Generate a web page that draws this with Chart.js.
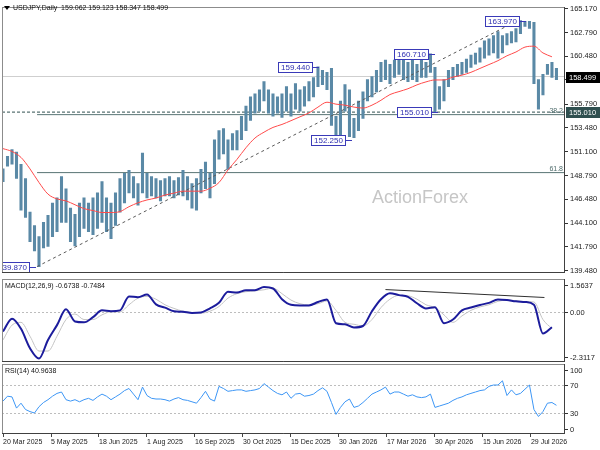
<!DOCTYPE html>
<html>
<head>
<meta charset="utf-8">
<script src="https://cdn.jsdelivr.net/npm/chart.js@4.4.1/dist/chart.umd.min.js"></script>
<style>
  html, body { margin:0; padding:0; background:#ffffff; }
  body { width:600px; height:450px; position:relative; overflow:hidden; }
  .pane { position:absolute; left:0; width:600px; }
  #pane1 { top:0; height:279px; }
  #pane2 { top:277px; height:87px; }
  #pane3 { top:362px; height:88px; }
</style>
</head>
<body>
<div class="pane" id="pane1"><canvas id="priceChart"></canvas></div>
<div class="pane" id="pane2"><canvas id="macdChart"></canvas></div>
<div class="pane" id="pane3"><canvas id="rsiChart"></canvas></div>
<script>
// ---------------- DATA ----------------
const BAR_STEP = 3;   // trading days per drawn bar
const IND_STEP = 6;   // trading days per MA / MACD sample
const X_TICK_STEP = 32;

const xTickLabels = ['20 Mar 2025','5 May 2025','18 Jun 2025','1 Aug 2025','16 Sep 2025','30 Oct 2025',
  '15 Dec 2025','30 Jan 2026','17 Mar 2026','30 Apr 2026','15 Jun 2026','29 Jul 2026'];
const priceTicks = [165.170,162.790,160.480,158.170,155.790,153.480,151.100,148.790,146.480,144.100,141.790,139.480];

const barHigh = [
  149.44,150.67,151.33,151.1,149.9,148.5,145.2,143.9,142.8,144.2,
  144.9,146.1,146.6,148.7,147.5,145.6,145.0,146.1,146.6,146.1,
  146.6,147.1,148.2,146.6,146.1,147.1,148.5,149.0,149.3,148.7,
  148.0,151.0,149.0,148.7,148.5,148.3,148.5,148.7,148.3,148.6,
  149.3,148.7,148.0,148.5,149.4,150.1,149.0,152.3,153.2,153.4,
  152.3,152.9,153.2,154.6,155.6,156.5,156.8,157.2,158.0,157.2,
  156.8,156.5,156.8,157.5,156.8,157.8,157.2,157.5,158.0,158.4,
  159.44,159.1,158.9,159.3,154.6,156.1,157.7,157.2,154.4,156.1,
  157.0,158.2,158.5,159.1,159.9,160.1,159.7,160.1,160.6,160.1,
  159.9,160.1,159.7,160.1,159.9,160.71,159.4,157.5,158.2,159.1,
  159.4,159.7,159.9,160.2,160.6,160.8,161.3,162.0,162.2,162.5,
  162.9,162.5,162.7,162.9,163.2,163.97,163.9,163.9,163.8,158.2,
  158.7,159.7,159.9,159.3];
const barLow = [
  148.2,149.7,149.9,148.5,145.4,144.7,142.3,141.4,139.87,141.7,
  141.85,142.8,143.3,144.2,144.2,142.3,141.9,142.8,143.6,143.3,
  143.0,143.6,144.2,143.3,142.6,143.9,145.2,146.1,147.1,146.6,
  145.9,147.1,146.6,146.8,146.6,146.3,146.8,146.8,146.6,146.9,
  146.8,146.4,145.6,145.4,147.1,147.5,146.6,148.0,150.4,150.9,
  149.4,151.3,151.3,152.3,153.2,154.2,154.9,155.1,156.1,154.9,
  154.6,154.9,154.5,155.1,154.6,155.3,155.1,155.6,156.1,156.5,
  157.5,157.7,157.2,153.7,152.25,152.8,155.1,152.6,152.5,153.2,
  154.4,156.1,156.5,157.0,158.0,158.2,157.8,158.4,158.7,158.2,
  158.0,158.2,158.0,158.4,158.4,158.9,155.01,155.3,156.1,157.5,
  158.2,158.5,158.7,158.9,159.4,159.7,159.9,160.3,160.6,160.8,
  160.3,160.8,161.6,161.8,161.9,162.7,163.4,163.2,157.8,155.3,
  156.7,158.7,158.4,158.2];

const movingAvg = [
  151.43,151.15,150.57,149.44,148.11,146.97,146.5,146.31,145.93,145.55,
  145.36,145.17,145.17,145.26,145.74,146.12,146.4,146.59,146.88,147.07,
  147.26,147.26,147.26,147.54,148.11,149.34,150.38,151.52,152.47,153.04,
  153.51,153.8,154.17,154.55,154.93,155.5,155.98,155.79,155.69,155.5,
  155.41,155.69,156.17,156.73,157.02,157.3,157.68,157.97,158.16,158.16,
  158.44,158.63,158.91,159.29,159.67,160.05,160.53,160.9,161.38,161.47,
  160.81,160.43];

const macdLine = [
  -0.89,-0.29,-0.76,-1.67,-2.15,-1.28,-0.59,0.15,-0.42,-0.46,
  -0.22,0.10,0.06,0.10,0.75,0.71,0.84,0.38,0.23,0.06,
  0.03,-0.02,0.0,0.19,0.45,0.97,0.93,1.04,1.04,1.19,
  1.12,0.62,0.36,0.33,0.33,0.49,0.61,-0.50,-0.55,-0.70,
  -0.63,0.06,0.62,0.90,0.81,0.73,0.43,0.19,0.25,-0.50,
  -0.33,0.10,0.23,0.35,0.45,0.61,0.58,0.52,0.49,0.36,
  -0.98,-0.69];
const macdSignal = [
  -1.28,-0.59,-0.46,-1.11,-1.80,-1.80,-1.11,-0.33,-0.07,-0.33,
  -0.33,-0.11,0.03,0.03,0.36,0.67,0.75,0.62,0.36,0.19,
  0.06,0.0,-0.03,0.06,0.28,0.67,0.88,0.97,1.01,1.06,
  1.14,0.88,0.58,0.41,0.35,0.41,0.54,0.10,-0.46,-0.55,
  -0.63,-0.33,0.23,0.62,0.80,0.78,0.62,0.36,0.23,-0.11,
  -0.46,-0.16,0.10,0.26,0.36,0.52,0.58,0.55,0.51,0.49,
  -0.33,-0.75];

const rsiLine = [
  47,54,53,37,44,35,32,30,39,45,
  49,54,58,60,49,47,49,46,49,51,
  48,53,57,54,49,53,57,62,65,57,
  49,67,55,51,50,50,49,47,50,52,
  49,48,46,44,52,61,50,47,68,65,
  61,62,63,63,61,62,63,65,72,67,
  62,58,56,60,51,57,58,54,55,57,
  62,66,61,45,28,38,46,50,38,40,
  45,51,57,60,63,67,57,60,60,57,
  54,56,53,52,53,57,38,40,42,44,
  48,51,53,56,58,60,62,63,68,70,
  70,76,55,63,56,58,64,70,35,25,
  32,44,45,41];

// annotations
const lastClose = 158.499;
const supportLevel = 155.010;
const fibNames = ['38.2','61.8'];
const fibLevels = [154.76, 149.08];
const fibStartDay = 22.7;
const trendDays = [22.7, 343];
const trendValues = [139.87, 163.97];
const markTexts = ['139.870','159.440','152.250','160.710','155.010','163.970'];
const markValues = [139.87,159.44,152.25,160.71,155.01,163.97];
const markDays = [22,211,233,288,290,348.5];
const macdTrendDays = [255, 361];
const macdTrendValues = [1.07, 0.70];
const macdTickTexts = ['1.5637','0.00','-2.3117'];
const rsiTickValues = [100,70,30,0];
const rsiLevels = [70,30];

// ---------------- CHARTS ----------------
const FONT = '"Liberation Sans", Arial, Helvetica, sans-serif';
const X_MIN = -0.67, X_MAX = 374.7;
const AXIS_W = 35;

function hiddenX() {
  return { type:'linear', min:X_MIN, max:X_MAX, offset:false, display:false };
}
function drawFrame(chart) {
  const {ctx, chartArea:a} = chart;
  ctx.save();
  ctx.strokeStyle = '#8c8c8c'; ctx.lineWidth = 1;
  const L = Math.round(a.left), T = Math.round(a.top), R = Math.round(a.right), B = Math.round(a.bottom);
  ctx.strokeRect(L + 0.5, T + 0.5, R - L - 1, B - T - 1);
  ctx.strokeStyle = '#404040';
  ctx.beginPath(); ctx.moveTo(R - 0.5, T); ctx.lineTo(R - 0.5, B); ctx.stroke();
  ctx.beginPath(); ctx.moveTo(L, B - 0.5); ctx.lineTo(R, B - 0.5); ctx.stroke();
  ctx.restore();
}
function axisLabel(chart, y, text) {
  const {ctx, chartArea:a} = chart;
  const R = Math.round(a.right);
  const yy = Math.round(y) + 0.5;
  ctx.save();
  ctx.strokeStyle = '#333'; ctx.lineWidth = 1;
  ctx.beginPath(); ctx.moveTo(R, yy); ctx.lineTo(R + 3, yy); ctx.stroke();
  ctx.fillStyle = '#222'; ctx.font = `7.5px ${FONT}`;
  ctx.textBaseline = 'middle'; ctx.textAlign = 'left';
  ctx.fillText(text, R + 5, yy);
  ctx.restore();
}
function drawTitle(chart, text, y, arrow) {
  const ctx = chart.ctx;
  ctx.save();
  let x = 5;
  if (arrow) {
    ctx.fillStyle = '#000';
    ctx.beginPath(); ctx.moveTo(4, 6); ctx.lineTo(10, 6); ctx.lineTo(7, 10); ctx.closePath(); ctx.fill();
    x = 13;
  }
  ctx.fillStyle = '#111'; ctx.font = `7px ${FONT}`;
  ctx.textBaseline = 'middle'; ctx.textAlign = 'left';
  ctx.fillText(text, x, y);
  ctx.restore();
}

// ---- price chart ----
const pricePlugin = {
  id: 'pricePlugin',
  beforeDatasetsDraw(chart) {
    const ctx = chart.ctx;
    ctx.save();
    ctx.fillStyle = '#c6c6c6'; ctx.font = `18px ${FONT}`;
    ctx.textAlign = 'center'; ctx.textBaseline = 'alphabetic';
    ctx.fillText('ActionForex', 420, 203);
    ctx.restore();
  },
  afterDatasetsDraw(chart) {
    const {ctx, chartArea:a} = chart;
    const xs = chart.scales.x, ys = chart.scales.y;
    ctx.save();
    ctx.beginPath(); ctx.rect(a.left + 1, a.top, a.right - a.left - 1, a.bottom - a.top); ctx.clip();
    ctx.font = `7px ${FONT}`; ctx.fillStyle = '#4e6b6b';
    ctx.textAlign = 'right'; ctx.textBaseline = 'alphabetic';
    fibLevels.forEach((v, j) => ctx.fillText(fibNames[j], a.right - 2, ys.getPixelForValue(v) - 2));
    ctx.font = `8px ${FONT}`; ctx.textAlign = 'left'; ctx.textBaseline = 'middle';
    markTexts.forEach((t, j) => {
      const px = Math.round(xs.getPixelForValue(markDays[j]));
      const cy = Math.round(ys.getPixelForValue(markValues[j]));
      const w = Math.ceil(ctx.measureText(t).width) + 5;
      const bx = px - 7 - w;
      ctx.fillStyle = '#ffffff'; ctx.fillRect(bx, cy - 5, w, 11);
      ctx.strokeStyle = '#3a3ab8'; ctx.lineWidth = 1;
      ctx.strokeRect(bx + 0.5, cy - 4.5, w, 10);
      ctx.beginPath(); ctx.moveTo(bx + w, cy + 0.5); ctx.lineTo(px, cy + 0.5); ctx.stroke();
      ctx.fillStyle = '#2e2eb0'; ctx.fillText(t, bx + 3, cy + 1);
    });
    ctx.restore();
  },
  afterDraw(chart) {
    const {ctx, chartArea:a} = chart;
    const ys = chart.scales.y;
    drawFrame(chart);
    drawTitle(chart, 'USDJPY,Daily  159.062 159.123 158.347 158.499', 8, true);
    ctx.save();
    ctx.font = `7.5px ${FONT}`; ctx.textBaseline = 'middle'; ctx.textAlign = 'left';
    [[lastClose, '#000000'], [supportLevel, '#2f4f4f']].forEach(([v, col]) => {
      const cy = Math.round(ys.getPixelForValue(v));
      ctx.fillStyle = col; ctx.fillRect(Math.round(a.right) + 1, cy - 5, 34, 11);
      ctx.fillStyle = '#ffffff'; ctx.fillText(v.toFixed(3), Math.round(a.right) + 4, cy + 0.5);
    });
    ctx.restore();
  }
};

const barData = barHigh.map((h, i) => ({ x: i * BAR_STEP, y: [barLow[i], h] }));
const maData = movingAvg.map((v, k) => ({ x: k * IND_STEP, y: v }));
const hLine = (x0, v) => [{ x: x0, y: v }, { x: X_MAX, y: v }];

new Chart(document.getElementById('priceChart'), {
  type: 'bar',
  data: {
    datasets: [
      { type:'line', data: maData, borderColor:'#ff4a4a', borderWidth:1, pointRadius:0, cubicInterpolationMode:'monotone', order:1 },
      { type:'line', data: trendDays.map((d, j) => ({ x:d, y:trendValues[j] })), borderColor:'#5a5a5a', borderWidth:1, borderDash:[3,3], pointRadius:0, order:2 },
      { type:'bar', data: barData, backgroundColor:'#5a89a6', barThickness:2.4, order:3 },
      { type:'line', data: hLine(X_MIN, supportLevel), borderColor:'#2f4f4f', borderWidth:1, borderDash:[3,2], pointRadius:0, order:4 },
      { type:'line', data: hLine(fibStartDay, fibLevels[0]), borderColor:'#587474', borderWidth:1, pointRadius:0, order:5 },
      { type:'line', data: hLine(fibStartDay, fibLevels[1]), borderColor:'#587474', borderWidth:1, pointRadius:0, order:5 },
      { type:'line', data: hLine(X_MIN, lastClose), borderColor:'#cfcfcf', borderWidth:1, pointRadius:0, order:6 }
    ]
  },
  options: {
    responsive:true, maintainAspectRatio:false, animation:false, events:[],
    layout: { padding: { left:2, top:2, right:0, bottom:2 } },
    plugins: { legend:{display:false}, tooltip:{enabled:false} },
    scales: {
      x: hiddenX(),
      y: {
        position:'right', min:139.29, max:165.36,
        afterBuildTicks: s => { s.ticks = priceTicks.map(v => ({ value:v })); },
        afterFit: s => { s.width = AXIS_W; },
        ticks: { autoSkip:false, font:{ family:FONT, size:7.5 }, color:'#222', padding:2, callback: v => Number(v).toFixed(3) },
        grid: { drawOnChartArea:false, drawTicks:true, tickLength:3, color:'#333' },
        border: { display:false }
      }
    }
  },
  plugins: [pricePlugin]
});

// ---- indicator charts ----
function indicatorPlugin(id, title, titleY, labels, levels) {
  return {
    id,
    beforeDatasetsDraw(chart) {
      const {ctx, chartArea:a} = chart; const ys = chart.scales.y;
      ctx.save();
      ctx.strokeStyle = '#bdbdbd'; ctx.lineWidth = 1; ctx.setLineDash([2,2]);
      levels.forEach(v => {
        const yy = Math.round(ys.getPixelForValue(v)) + 0.5;
        ctx.beginPath(); ctx.moveTo(a.left, yy); ctx.lineTo(a.right, yy); ctx.stroke();
      });
      ctx.restore();
    },
    afterDraw(chart) {
      const a = chart.chartArea; const ys = chart.scales.y;
      drawFrame(chart);
      drawTitle(chart, title, titleY, false);
      labels.forEach(l => {
        let y;
        if (l.edge === 'top') y = a.top + 5.5;
        else if (l.edge === 'bottom') y = a.bottom - 5.5;
        else y = ys.getPixelForValue(l.value);
        axisLabel(chart, y, l.text);
      });
    }
  };
}
function indicatorY(min, max) {
  return {
    position:'right', min, max,
    afterFit: s => { s.width = AXIS_W; },
    ticks: { display:false }, grid: { display:false, drawTicks:false }, border: { display:false }
  };
}

new Chart(document.getElementById('macdChart'), {
  type: 'line',
  data: {
    datasets: [
      { data: macdLine.map((v, k) => ({ x:k * IND_STEP, y:v })), borderColor:'#1c1c9c', borderWidth:2, pointRadius:0, cubicInterpolationMode:'monotone', order:1 },
      { data: macdSignal.map((v, k) => ({ x:k * IND_STEP, y:v })), borderColor:'#c4c4c4', borderWidth:1, pointRadius:0, cubicInterpolationMode:'monotone', order:2 },
      { data: macdTrendDays.map((d, j) => ({ x:d, y:macdTrendValues[j] })), borderColor:'#303030', borderWidth:1, pointRadius:0, order:0 }
    ]
  },
  options: {
    responsive:true, maintainAspectRatio:false, animation:false, events:[],
    layout: { padding: { left:2, top:2, right:0, bottom:2 } },
    plugins: { legend:{display:false}, tooltip:{enabled:false} },
    scales: { x: hiddenX(), y: indicatorY(-2.3117, 1.5637) }
  },
  plugins: [indicatorPlugin('macdPlugin', 'MACD(12,26,9) -0.6738 -0.7484', 9,
    [{ text:macdTickTexts[0], edge:'top' }, { text:macdTickTexts[1], value:0 }, { text:macdTickTexts[2], edge:'bottom' }], [0])]
});

new Chart(document.getElementById('rsiChart'), {
  type: 'line',
  data: {
    datasets: [
      { data: rsiLine.map((v, i) => ({ x:i * BAR_STEP, y:v })), borderColor:'#3d96f5', borderWidth:1, pointRadius:0, tension:0 }
    ]
  },
  options: {
    responsive:true, maintainAspectRatio:false, animation:false, events:[],
    layout: { padding: { left:2, top:2, right:0, bottom:0 } },
    plugins: { legend:{display:false}, tooltip:{enabled:false} },
    scales: {
      x: {
        type:'linear', min:X_MIN, max:X_MAX, offset:false,
        afterBuildTicks: s => { s.ticks = xTickLabels.map((_, j) => ({ value: j * X_TICK_STEP })); },
        afterFit: s => { s.height = 16; },
        ticks: { autoSkip:false, maxRotation:0, minRotation:0, align:'start', font:{ family:FONT, size:7 }, color:'#222', padding:1,
                 callback: (v, i) => xTickLabels[i] },
        grid: { drawOnChartArea:false, drawTicks:true, tickLength:3, color:'#444' },
        border: { display:false }
      },
      y: indicatorY(0, 100)
    }
  },
  plugins: [indicatorPlugin('rsiPlugin', 'RSI(14) 40.9638', 9,
    [{ text:String(rsiTickValues[0]), edge:'top' }, { text:String(rsiTickValues[1]), value:rsiTickValues[1] },
     { text:String(rsiTickValues[2]), value:rsiTickValues[2] }, { text:String(rsiTickValues[3]), edge:'bottom' }], rsiLevels)]
});
</script>
</body>
</html>
